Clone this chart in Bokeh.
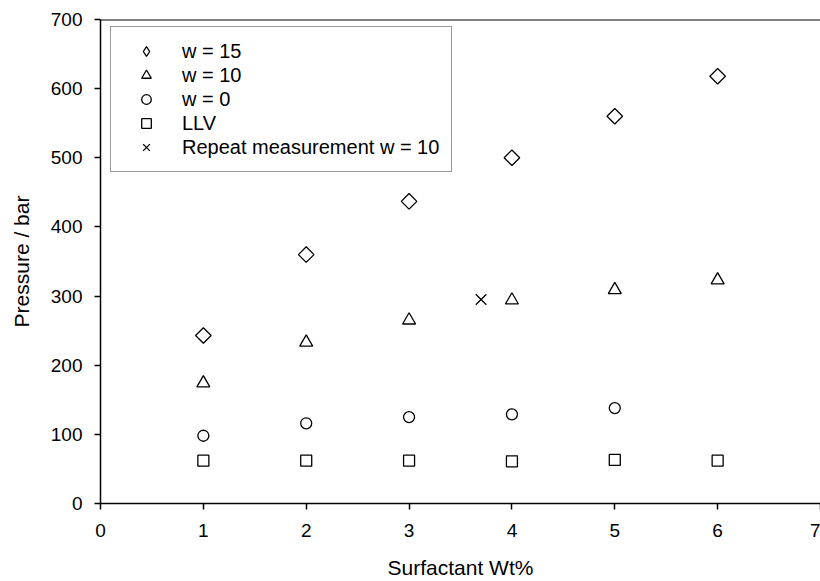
import math
from bokeh.plotting import figure
from bokeh.models import Range1d, Span, Legend, LegendItem, FixedTicker
from bokeh.embed import file_html
from bokeh.resources import INLINE

# ---- data ----
wt = [1, 2, 3, 4, 5, 6]
p_w15 = [243, 360, 437, 500, 560, 618]
p_w10 = [174, 233, 265, 294, 309, 323]
wt_w0 = [1, 2, 3, 4, 5]
p_w0 = [98, 116, 125, 129, 138]
p_llv = [62, 62, 62, 61, 63, 62]
wt_rep = [3.7]
p_rep = [295]
x_ticks = [0, 1, 2, 3, 4, 5, 6, 7]
y_ticks = [0, 100, 200, 300, 400, 500, 600, 700]
labels = ["w = 15", "w = 10", "w = 0", "LLV", "Repeat measurement w = 10"]
x_title = "Surfactant Wt%"
y_title = "Pressure / bar"

FONT = "Liberation Sans"

p = figure(width=820, height=581, output_backend="svg", toolbar_location=None,
           x_range=Range1d(0, 7), y_range=Range1d(0, 700),
           min_border_left=100, min_border_right=0, min_border_top=19, min_border_bottom=78,
           x_axis_label=x_title, y_axis_label=y_title)

p.xgrid.visible = False
p.ygrid.visible = False
p.outline_line_color = None
p.background_fill_color = "white"
p.border_fill_color = "white"

p.add_layout(Span(location=700, dimension="width", line_color="black", line_width=2))

p.xaxis.ticker = FixedTicker(ticks=x_ticks)
p.yaxis.ticker = FixedTicker(ticks=y_ticks)
for ax in p.axis:
    ax.axis_line_color = "black"
    ax.axis_line_width = 1.5
    ax.major_tick_line_color = "black"
    ax.major_tick_line_width = 1.5
    ax.major_tick_out = 6
    ax.major_tick_in = 0
    ax.minor_tick_line_color = None
    ax.major_label_text_font = FONT
    ax.major_label_text_font_size = "19px"
    ax.major_label_text_color = "black"
    ax.axis_label_text_font = FONT
    ax.axis_label_text_font_size = "21px"
    ax.axis_label_text_font_style = "normal"
    ax.axis_label_text_color = "black"

p.xaxis.major_label_standoff = 14
p.xaxis.axis_label_standoff = 16
p.yaxis.major_label_standoff = 12
p.yaxis.axis_label_standoff = 15

common = dict(fill_color=None, line_color="black", line_width=1.3)
r15 = p.scatter(wt, p_w15, marker="square", angle=math.pi / 4, size=11, **common)
r10 = p.scatter(wt, p_w10, marker="triangle", size=13, **common)
r0 = p.scatter(wt_w0, p_w0, marker="circle", size=11, **common)
rl = p.scatter(wt, p_llv, marker="square", size=11, **common)
rr = p.scatter(wt_rep, p_rep, marker="x", size=15, **common)
# hidden twin of the w = 15 series, used only to draw an upright diamond in the legend
r15_leg = p.scatter(wt, p_w15, marker="diamond", size=14, visible=False, **common)

legend = Legend(items=[LegendItem(label=labels[0], renderers=[r15_leg]),
                       LegendItem(label=labels[1], renderers=[r10]),
                       LegendItem(label=labels[2], renderers=[r0]),
                       LegendItem(label=labels[3], renderers=[rl]),
                       LegendItem(label=labels[4], renderers=[rr])],
                location=(10, 331))
legend.margin = 0
legend.padding = 12
legend.spacing = 0
legend.glyph_width = 46
legend.glyph_height = 24
legend.label_height = 24
legend.label_standoff = 13
legend.label_text_font = FONT
legend.label_text_font_size = "20px"
legend.label_text_color = "black"
legend.border_line_color = "#333333"
legend.border_line_width = 1.2
legend.background_fill_alpha = 1.0
legend.inactive_fill_alpha = 0.0
p.add_layout(legend)

open("out.html", "w").write(file_html(p, INLINE))
